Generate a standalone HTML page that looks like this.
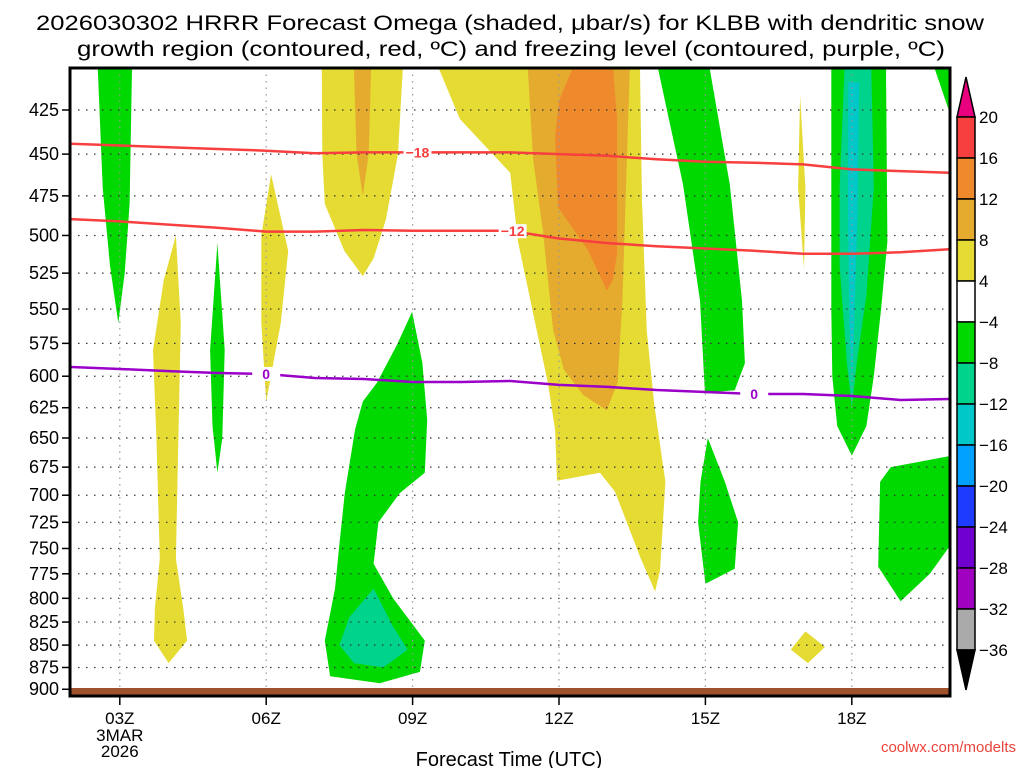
<!DOCTYPE html>
<html><head><meta charset="utf-8"><style>
html,body{margin:0;padding:0;background:#fff;}
svg{display:block;font-family:"Liberation Sans","DejaVu Sans",sans-serif;}
</style></head><body>
<svg id="chart" width="1024" height="768" viewBox="0 0 1024 768">
<defs><clipPath id="pc"><rect x="70" y="68" width="880" height="628"/></clipPath></defs>
<text x="510" y="30" text-anchor="middle" font-size="21" textLength="948" lengthAdjust="spacingAndGlyphs">2026030302 HRRR Forecast Omega (shaded, μbar/s) for KLBB with dendritic snow</text>
<text x="511" y="56" text-anchor="middle" font-size="21" textLength="868" lengthAdjust="spacingAndGlyphs">growth region (contoured, red, ºC) and freezing level (contoured, purple, ºC)</text>
<g id="shades" clip-path="url(#pc)"></g>
<g id="grid"></g>
<g id="contours" clip-path="url(#pc)"></g>
<rect x="70" y="688" width="880" height="8" fill="#a0522d"/>
<rect x="70" y="68" width="880" height="628" fill="none" stroke="#000" stroke-width="3"/>
<g id="axes"></g>
<g id="cbar"></g>
<text x="509" y="766" text-anchor="middle" font-size="20">Forecast Time (UTC)</text>
<text x="1016" y="752" text-anchor="end" font-size="15" fill="#e8453c">coolwx.com/modelts</text>
</svg>
<script>
// ---- data ----
const pressureTicks = [425,450,475,500,525,550,575,600,625,650,675,700,725,750,775,800,825,850,875,900];
const timeTicks = [3,6,9,12,15,18];
const timeTickLabels = ["03Z","06Z","09Z","12Z","15Z","18Z"];
const hours = [2,3,4,5,6,7,8,9,10,11,12,13,14,15,16,17,18,19,20];
const isoMinus18 = [444,445,446,447,448,449.5,449,449,449,449,450,451,453,454.5,455,456,459,460,461];
const isoMinus12 = [489.5,491,493,495,497.5,497.5,496.5,497,497,497,502,505,507,508.5,510,512,512,511,509];
const isoZero = [592.9,594.4,596,597.5,598.3,601.4,602.2,604.5,604.5,603.7,606.8,608.4,610.8,612.4,614,614,615.6,618.8,618];
const cbarLevels = ["20","16","12","8","4","−4","−8","−12","−16","−20","−24","−28","−32","−36"];
const cbarColors = ["#f73f3f","#ef8a2c","#e5ab2f","#e5db33","#ffffff","#00d900","#00d38c","#00c8c8","#00a0ff","#1e3cff","#7000d0","#a000c0","#aaaaaa"];
const regionGreen03 = [[2.55,403],[3.25,403],[3.2,480],[3.1,525],[2.97,560],[2.8,520],[2.65,470]];
const regionYellow04 = [[4.15,500],[4.25,560],[4.2,650],[4.15,760],[4.3,810],[4.38,845],[4.0,870],[3.7,845],[3.72,810],[3.82,760],[3.75,650],[3.68,580],[3.9,530]];
const regionGreen05 = [[5.0,505],[5.15,580],[5.1,650],[5.0,680],[4.9,640],[4.85,580]];
const regionYellow06 = [[6.1,462],[6.45,510],[6.3,560],[6.0,620],[5.9,560],[5.9,500]];
const regionYellow08 = [[7.14,403],[8.8,403],[8.7,450],[8.45,490],[8.2,515],[7.98,527],[7.6,510],[7.2,480],[7.15,450]];
const regionOrange08 = [[7.8,403],[8.15,403],[8.1,450],[7.98,475],[7.85,450]];
const regionYellow12 = [[9.54,403],[9.97,430],[11.0,461],[11.16,504],[11.5,558],[11.77,605],[11.92,643],[11.96,687],[12.84,680],[13.15,697],[13.66,758],[13.97,793],[14.07,772],[14.18,688],[13.95,622],[13.8,566],[13.7,478],[13.66,403]];
const regionOrange12 = [[11.36,403],[11.47,453],[11.67,497],[11.88,565],[12.1,595],[12.5,615],[12.98,627],[13.2,605],[13.3,544],[13.45,403]];
const regionDarkOrange12 = [[12.27,403],[13.11,403],[13.19,430],[13.19,512],[13.1,530],[12.98,537],[12.6,510],[11.98,482],[11.92,440],[12.0,420]];
const regionGreen08 = [[8.99,552],[9.2,590],[9.3,635],[9.25,680],[8.74,698],[8.3,725],[8.2,765],[8.6,800],[9.25,845],[9.15,880],[8.33,893],[7.31,885],[7.2,845],[7.41,790],[7.51,741],[7.61,698],[7.82,643],[7.98,620],[8.27,605],[8.68,576]];
const regionTeal08 = [[8.2,790],[8.6,830],[8.9,855],[8.4,875],[7.8,870],[7.5,850],[7.7,820]];
const regionGreen14 = [[14.03,403],[15.09,403],[15.5,468],[15.75,544],[15.81,590],[15.6,611],[14.99,613],[14.89,544],[14.54,468]];
const regionGreen15 = [[15.05,650],[15.4,688],[15.67,725],[15.6,770],[15.0,785],[14.85,725],[14.9,688]];
const regionYellow17 = [[16.94,417],[17.05,470],[17.02,522],[16.9,470]];
const regionYellow17b = [[16.75,855],[17.05,835],[17.45,852],[17.1,870]];
const regionGreen18 = [[17.58,403],[18.7,403],[18.73,504],[18.6,550],[18.45,600],[18.3,640],[18.0,665],[17.7,640],[17.6,600],[17.58,550]];
const regionTeal18 = [[17.85,403],[18.4,403],[18.45,470],[18.3,540],[18.1,590],[18.0,625],[17.9,590],[17.75,520],[17.75,470]];
const regionCyan18 = [[17.93,410],[18.15,410],[18.12,480],[18.05,560],[18.0,610],[17.95,560],[17.92,480]];
const regionGreen19 = [[18.58,688],[18.8,675],[20.05,665],[20.05,745],[19.6,775],[19.0,803],[18.54,768]];
const regionGreenCorner = [[19.7,403],[20.05,403],[20.05,430]];

const NS='http://www.w3.org/2000/svg';
function xs(h){return 71+(h-2)*48.8;}
function ys(p){return 110+772*Math.log(p/425);}
function mk(tag,attrs,parent){const e=document.createElementNS(NS,tag);for(const k in attrs)e.setAttribute(k,attrs[k]);parent.appendChild(e);return e;}
function poly(pts){return pts.map((q,i)=>(i?'L':'M')+xs(q[0]).toFixed(1)+','+ys(q[1]).toFixed(1)).join('')+'Z';}
function pathLine(hs,ps){return hs.map((h,i)=>(i?'L':'M')+xs(h).toFixed(1)+','+ys(ps[i]).toFixed(1)).join('');}

const shades=document.getElementById('shades');
const regions=[
 ['#00d900',regionGreen03,'region-green-03z'],['#e5db33',regionYellow04,'region-yellow-04z'],
 ['#00d900',regionGreen05,'region-green-05z'],['#e5db33',regionYellow06,'region-yellow-06z'],
 ['#e5db33',regionYellow08,'region-yellow-08z'],['#e5ab2f',regionOrange08,'region-orange-08z'],
 ['#e5db33',regionYellow12,'region-yellow-12z'],['#e5ab2f',regionOrange12,'region-orange-12z'],
 ['#ef8a2c',regionDarkOrange12,'region-darkorange-12z'],['#00d900',regionGreen08,'region-green-08z'],
 ['#00d38c',regionTeal08,'region-teal-08z'],['#00d900',regionGreen14,'region-green-14z'],
 ['#00d900',regionGreen15,'region-green-15z'],['#e5db33',regionYellow17,'region-yellow-17z'],
 ['#e5db33',regionYellow17b,'region-yellow-17z-low'],['#00d900',regionGreen18,'region-green-18z'],
 ['#00d38c',regionTeal18,'region-teal-18z'],['#00c8c8',regionCyan18,'region-cyan-18z'],
 ['#00d900',regionGreen19,'region-green-19z'],['#00d900',regionGreenCorner,'region-green-corner']];
regions.forEach(r=>{
 const e=mk('path',{d:poly(r[1]),fill:r[0]},shades);
 
 
});

const grid=document.getElementById('grid');
const axes=document.getElementById('axes');
pressureTicks.forEach(p=>{
 const y=ys(p);
 const g=mk('line',{x1:70,x2:950,y1:y,y2:y,stroke:'#333','stroke-width':1.2,'stroke-dasharray':'1.5 6.5'},grid);
 
 
 const t=mk('line',{x1:62,x2:70,y1:y,y2:y,stroke:'#000','stroke-width':1.5},axes);
 
 
 const l=mk('text',{x:59,y:y+6,'text-anchor':'end','font-size':18},axes);
 l.textContent=p;
 
 
});
timeTicks.forEach((h,i)=>{
 const x=xs(h);
 const g=mk('line',{x1:x,x2:x,y1:68,y2:696,stroke:'#999','stroke-width':1.2,'stroke-dasharray':'1.5 5'},grid);
 
 
 const t=mk('line',{x1:x,x2:x,y1:696,y2:705,stroke:'#000','stroke-width':1.5},axes);
 
 
 const l=mk('text',{x:x,y:724,'text-anchor':'middle','font-size':17},axes);
 l.textContent=timeTickLabels[i];
 
 
});
[['3MAR',741],['2026',757]].forEach(d=>{
 const l=mk('text',{x:xs(3),y:d[1],'text-anchor':'middle','font-size':17},axes);
 l.textContent=d[0];
 
 
});

const cont=document.getElementById('contours');
function contour(ps,color,name,labels,txt){
 const e=mk('path',{d:pathLine(hours,ps),fill:'none',stroke:color,'stroke-width':2.5},cont);
 
 
 labels.forEach(h=>{
  const i=Math.floor(h-2),f=h-2-i;
  const p=ps[i]+(ps[Math.min(i+1,ps.length-1)]-ps[i])*f;
  mk('rect',{x:xs(h)-14,y:ys(p)-7,width:28,height:14,fill:'#fff'},cont);
  const t=mk('text',{x:xs(h),y:ys(p)+5,'text-anchor':'middle','font-size':14,'font-weight':'bold',fill:color},cont);
  t.textContent=txt;
  
  
 });
}
contour(isoMinus18,'#f73f3f','isotherm-minus18',[9.1],'−18');
contour(isoMinus12,'#f73f3f','isotherm-minus12',[11.05],'−12');
contour(isoZero,'#9b00c8','freezing-level-line',[6.0,16.0],'0');

const cb=document.getElementById('cbar');
const bx=957,bw=18,cbTop=117,step=41;
const tri=mk('path',{d:`M${bx},${cbTop}L${bx+bw/2},${cbTop-40}L${bx+bw},${cbTop}Z`,fill:'#e8007e',stroke:'#000','stroke-width':1.5},cb);


cbarColors.forEach((c,i)=>{
 const r=mk('rect',{x:bx,y:cbTop+i*step,width:bw,height:step,fill:c,stroke:'#000','stroke-width':1.5},cb);
 
 
});
const cbBot=cbTop+cbarColors.length*step;
const tri2=mk('path',{d:`M${bx},${cbBot}L${bx+bw/2},${cbBot+40}L${bx+bw},${cbBot}Z`,fill:'#000',stroke:'#000','stroke-width':1.5},cb);


cbarLevels.forEach((s,i)=>{
 const t=mk('text',{x:979,y:cbTop+i*step+6,'font-size':17},cb);
 t.textContent=s;
 
 
});
</script>
</body></html>
